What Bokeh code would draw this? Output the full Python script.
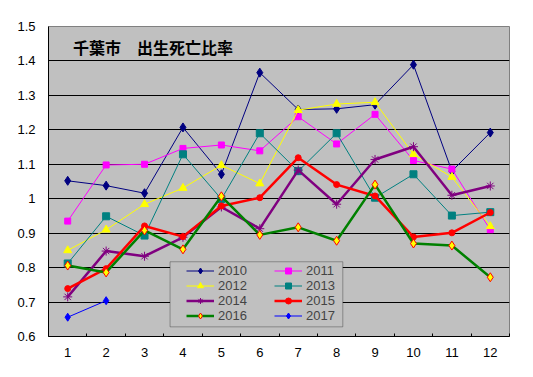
from bokeh.plotting import figure
from bokeh.models import (FixedTicker, Legend, LegendItem, Label, BoxAnnotation,
                          CustomJSTickFormatter, Range1d)
from bokeh.embed import file_html
from bokeh.resources import INLINE

months = [1, 2, 3, 4, 5, 6, 7, 8, 9, 10, 11, 12]
month_labels = [str(m) for m in months]
y_ticks = [0.6, 0.7, 0.8, 0.9, 1.0, 1.1, 1.2, 1.3, 1.4, 1.5]

title_text = "千葉市　出生死亡比率"

s2010 = [1.052, 1.038, 1.016, 1.207, 1.071, 1.366, 1.259, 1.261, 1.273, 1.389, 1.080, 1.192]
s2011 = [0.935, 1.098, 1.100, 1.146, 1.156, 1.139, 1.238, 1.159, 1.245, 1.111, 1.086, 0.910]
s2012 = [0.850, 0.910, 0.984, 1.031, 1.097, 1.044, 1.257, 1.275, 1.280, 1.129, 1.063, 0.920]
s2013 = [0.812, 0.949, 0.893, 1.129, 0.999, 1.190, 1.080, 1.190, 1.003, 1.071, 0.951, 0.961]
s2014 = [0.715, 0.848, 0.833, 0.888, 0.976, 0.913, 1.083, 0.984, 1.114, 1.151, 1.010, 1.037]
s2015 = [0.739, 0.797, 0.921, 0.890, 0.979, 1.003, 1.119, 1.041, 1.008, 0.889, 0.901, 0.960]
s2016 = [0.806, 0.786, 0.908, 0.853, 1.007, 0.895, 0.917, 0.878, 1.041, 0.870, 0.864, 0.772]
s2017 = [0.656, 0.704]

series = [
    ("2010", s2010, "#000080", 1, "diamond", 9, "#000080", "#000080"),
    ("2011", s2011, "#FF00FF", 1, "square", 6, "#FF00FF", "#FF00FF"),
    ("2012", s2012, "#FFFF00", 1, "triangle", 8, "#FFFF00", "#FFFF00"),
    ("2013", s2013, "#008080", 1, "square", 7, "#008080", "#008080"),
    ("2014", s2014, "#800080", 2.5, "asterisk", 9, "#800080", "#800080"),
    ("2015", s2015, "#FF0000", 2.5, "circle", 6, "#FF0000", "#FF0000"),
    ("2016", s2016, "#008000", 2.5, "diamond", 9, "#FFFF00", "#FF0000"),
    ("2017", s2017, "#0000FF", 1, "diamond", 8, "#0000FF", "#0000FF"),
]

p = figure(width=533, height=377, x_range=Range1d(0.5, 12.5), y_range=Range1d(0.6, 1.5),
           output_backend="svg", toolbar_location=None,
           min_border_left=48, min_border_right=24, min_border_top=26, min_border_bottom=41,
           background_fill_color="#C0C0C0", border_fill_color="white")
p.outline_line_color = "#808080"
p.outline_line_width = 1

# axes
p.xaxis.ticker = FixedTicker(ticks=months, minor_ticks=[m - 0.5 for m in months] + [12.5])
p.xaxis.major_label_overrides = {m: l for m, l in zip(months, month_labels)}
p.xaxis.major_tick_out = 0
p.xaxis.major_tick_in = 0
p.xaxis.minor_tick_in = 3
p.xaxis.minor_tick_out = 0
p.xaxis.minor_tick_line_color = "black"
p.xaxis.axis_line_color = "black"
p.xaxis.major_label_standoff = 11

p.yaxis.ticker = FixedTicker(ticks=y_ticks)
p.yaxis.formatter = CustomJSTickFormatter(code="var s = tick.toFixed(1); return s.endsWith('.0') ? s.slice(0, -2) : s;")
p.yaxis.major_tick_out = 0
p.yaxis.major_tick_in = 0
p.yaxis.minor_tick_out = 0
p.yaxis.minor_tick_in = 0
p.yaxis.axis_line_color = "black"
p.yaxis.major_label_standoff = 13

for ax in (p.xaxis, p.yaxis):
    ax.major_label_text_font = "Liberation Sans"
    ax.major_label_text_font_size = "13px"
    ax.major_label_text_color = "black"

p.xgrid.grid_line_color = None
p.ygrid.ticker = FixedTicker(ticks=y_ticks[1:-1])
p.ygrid.grid_line_color = "black"
p.ygrid.grid_line_width = 1

items = {}
for name, vals, color, lw, marker, size, fill, edge in series:
    xs = months[:len(vals)]
    r1 = p.line(xs, vals, line_color=color, line_width=lw)
    r2 = p.scatter(xs, vals, marker=marker, size=size, fill_color=fill, line_color=edge,
                   line_width=1)
    items[name] = LegendItem(label=name, renderers=[r1, r2])

# title inside plot
p.add_layout(Label(x=1.138, y=1.441, text=title_text, text_font="Noto Sans CJK JP",
                   text_font_style="bold", text_font_size="16px", text_baseline="middle",
                   text_color="black"))

# legend box
p.add_layout(BoxAnnotation(left=3.664, right=8.161, top=0.817, bottom=0.628,
                           fill_color="#C0C0C0", fill_alpha=1, line_color="black",
                           line_width=1))

# legend fills column-first
order = ["2010", "2012", "2014", "2016", "2011", "2013", "2015", "2017"]
legend = Legend(items=[items[n] for n in order], ncols=2, location=(138, 13),
                padding=0, margin=0, spacing=0, glyph_width=28, glyph_height=15,
                label_height=15, label_width=56, label_standoff=4,
                label_text_font="Liberation Sans", label_text_font_size="13px",
                background_fill_alpha=0, border_line_alpha=0)
p.add_layout(legend, "center")

open("out.html", "w").write(file_html(p, INLINE))
